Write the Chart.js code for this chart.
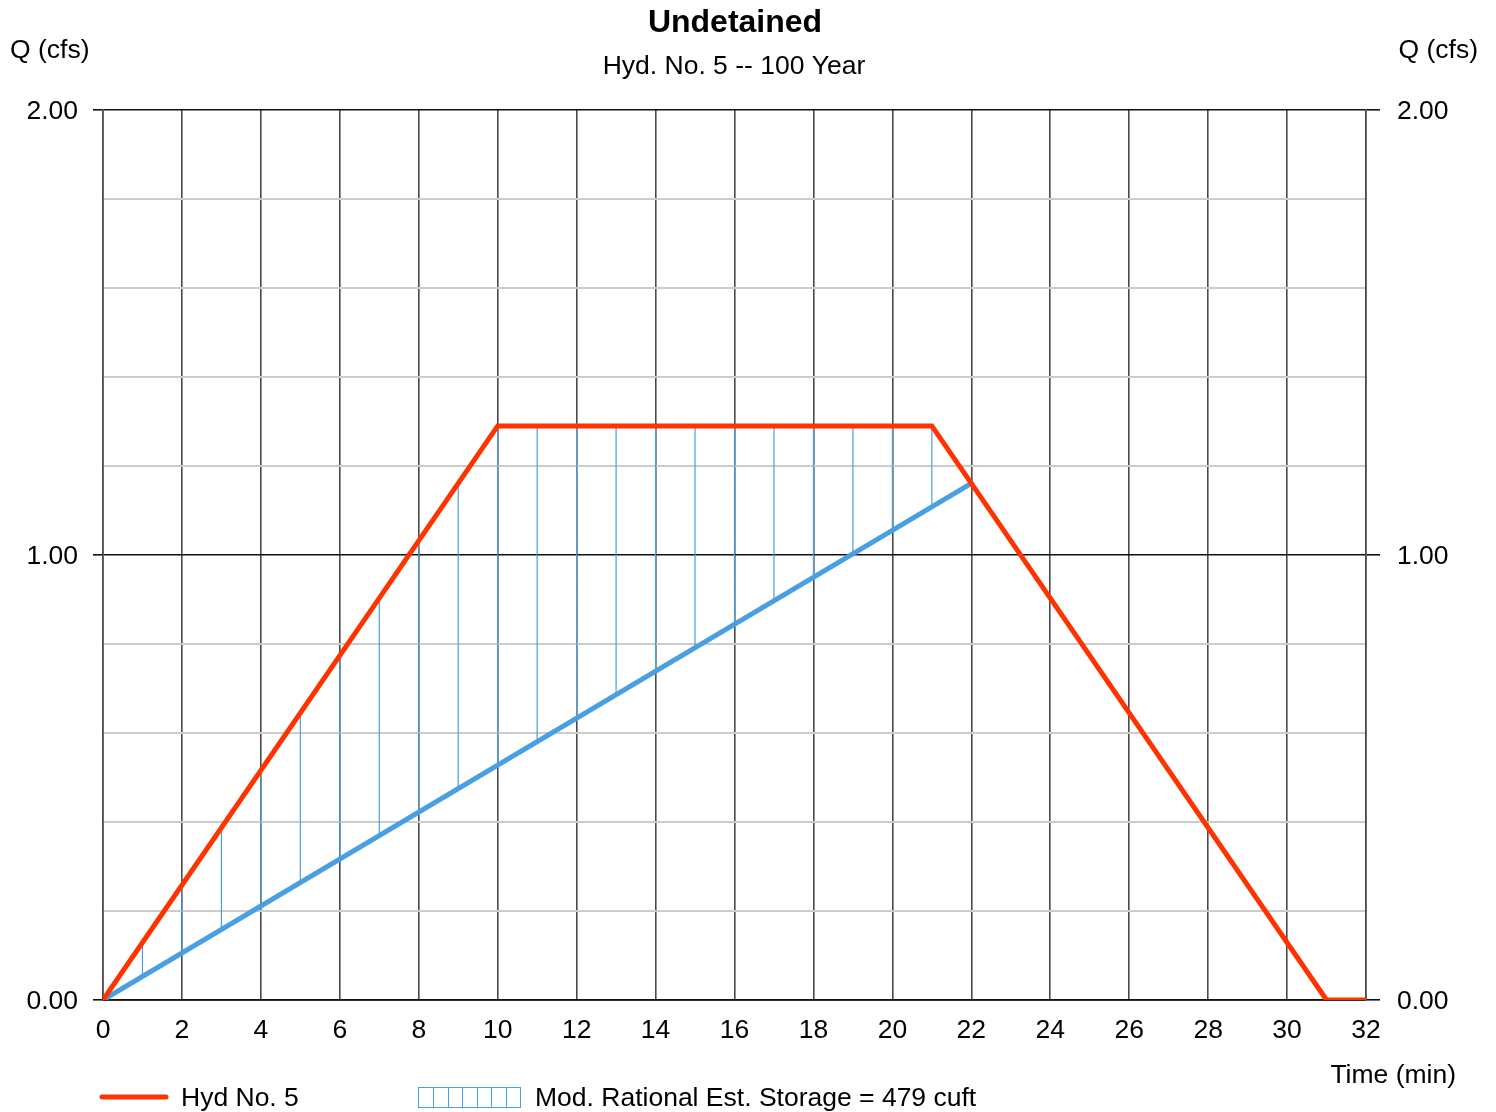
<!DOCTYPE html>
<html>
<head>
<meta charset="utf-8">
<script src="https://cdn.jsdelivr.net/npm/chart.js@4"></script>
<style>
  html, body { margin: 0; padding: 0; background: #fff; }
  #wrap { width: 1496px; height: 1112px; position: relative; }
</style>
</head>
<body>
<div id="wrap"><canvas id="c" width="1496" height="1112"></canvas></div>
<script>
// ---- Data ----
const hydTime   = [0, 10, 21, 31, 32];          // min
const hydFlow   = [0, 1.29, 1.29, 0, 0];        // cfs
const ratTime   = [0, 22];                      // min
const ratFlow   = [0, 1.161];                   // cfs
const hatchTime = [1, 2, 3, 4, 5, 6, 7, 8, 9, 10, 11, 12, 13, 14, 15, 16, 17, 18, 19, 20, 21];
const hatchTop  = [0.129, 0.258, 0.387, 0.516, 0.645, 0.774, 0.903, 1.032, 1.161, 1.29, 1.29,
                   1.29, 1.29, 1.29, 1.29, 1.29, 1.29, 1.29, 1.29, 1.29, 1.29];
const hatchLow  = [0.053, 0.106, 0.158, 0.211, 0.264, 0.317, 0.369, 0.422, 0.475, 0.528, 0.580,
                   0.633, 0.686, 0.739, 0.792, 0.844, 0.897, 0.950, 1.003, 1.056, 1.108];
const yTickLabels = ['0.00', '1.00', '2.00'];
const titleText = 'Undetained';
const subtitleText = 'Hyd. No. 5 -- 100 Year';
const yAxisTitle = 'Q (cfs)';
const xAxisTitle = 'Time (min)';
const legendHyd = 'Hyd No. 5';
const legendStorage = 'Mod. Rational Est. Storage = 479 cuft';

const RED = '#ff3300';
const BLUE = '#4a9fe0';
const FONT = '"Liberation Sans", Arial, sans-serif';
const FS = 26.5;

const hydData = hydTime.map((t, i) => ({ x: t, y: hydFlow[i] }));
const ratData = ratTime.map((t, i) => ({ x: t, y: ratFlow[i] }));
const hatchData = [];
hatchTime.forEach((t, i) => {
  hatchData.push({ x: t, y: hatchLow[i] });
  hatchData.push({ x: t, y: hatchTop[i] });
  hatchData.push({ x: t, y: null });
});

function isMajor(v) { return Math.abs(v - Math.round(v)) < 1e-6; }
function yLabel(v) {
  if (!isMajor(v)) return '';
  return yTickLabels[Math.round(v)] || '';
}

const textPlugin = {
  id: 'textPlugin',
  afterDraw(chart) {
    const ctx = chart.ctx;
    ctx.save();
    ctx.fillStyle = '#000';
    ctx.textBaseline = 'middle';
    // title
    ctx.textAlign = 'center';
    ctx.font = 'bold 32px ' + FONT;
    ctx.fillText(titleText, 735, 23);
    ctx.font = FS + 'px ' + FONT;
    ctx.fillText(subtitleText, 734, 67);
    // y-axis titles
    ctx.textAlign = 'left';
    ctx.fillText(yAxisTitle, 10, 51);
    ctx.textAlign = 'right';
    ctx.fillText(yAxisTitle, 1478, 51);
    // x-axis title
    ctx.fillText(xAxisTitle, 1456, 1076);
    // legend: red line
    ctx.strokeStyle = RED;
    ctx.lineWidth = 5;
    ctx.lineCap = 'round';
    ctx.beginPath();
    ctx.moveTo(102, 1097);
    ctx.lineTo(166, 1097);
    ctx.stroke();
    ctx.textAlign = 'left';
    ctx.fillText(legendHyd, 181, 1099);
    // legend: hatch box
    ctx.strokeStyle = BLUE;
    ctx.lineWidth = 1;
    ctx.lineCap = 'butt';
    const bx = 418.5, by = 1087.5, bw = 102, bh = 20;
    ctx.strokeRect(bx, by, bw, bh);
    for (let k = 1; k < 7; k++) {
      const xx = Math.round(bx + k * bw / 7) + 0.5;
      ctx.beginPath();
      ctx.moveTo(xx, by);
      ctx.lineTo(xx, by + bh);
      ctx.stroke();
    }
    ctx.fillText(legendStorage, 535, 1099);
    ctx.restore();
  }
};

new Chart(document.getElementById('c'), {
  type: 'line',
  data: {
    datasets: [
      { label: legendHyd, data: hydData, borderColor: RED, backgroundColor: RED,
        borderWidth: 5, pointRadius: 0, tension: 0, borderCapStyle: 'round', borderJoinStyle: 'miter' },
      { label: 'Mod. Rational', data: ratData, borderColor: BLUE, backgroundColor: BLUE,
        borderWidth: 5, pointRadius: 0, tension: 0, borderCapStyle: 'round' },
      { label: 'Storage', data: hatchData, borderColor: BLUE, backgroundColor: BLUE,
        borderWidth: 1.2, pointRadius: 0, tension: 0, spanGaps: false }
    ]
  },
  options: {
    responsive: false,
    animation: false,
    layout: { padding: { left: 0, right: 0, top: 110, bottom: 0 } },
    plugins: { legend: { display: false }, tooltip: { enabled: false }, title: { display: false } },
    scales: {
      x: {
        type: 'linear', min: 0, max: 32,
        afterFit(s) { s.height = 112; },
        ticks: { stepSize: 2, padding: 15, color: '#000', font: { family: FONT, size: FS },
                 maxRotation: 0, autoSkip: false },
        grid: { color: '#4a4a4a', lineWidth: 1.6, drawTicks: false },
        border: { display: true, color: '#111', width: 1.8 }
      },
      y: {
        position: 'left', min: 0, max: 2,
        afterFit(s) { s.width = 103; },
        ticks: { stepSize: 0.2, padding: 15, labelOffset: 2, color: '#000', font: { family: FONT, size: FS },
                 autoSkip: false, callback: v => yLabel(v) },
        grid: {
          color: c => isMajor(c.tick.value) ? '#111' : '#cccccc',
          lineWidth: c => isMajor(c.tick.value) ? 1.6 : 2,
          tickColor: c => isMajor(c.tick.value) ? '#111' : 'rgba(0,0,0,0)',
          tickLength: 10
        },
        border: { display: true, color: '#4a4a4a', width: 1.6 }
      },
      y2: {
        position: 'right', min: 0, max: 2,
        afterFit(s) { s.width = 130; },
        ticks: { stepSize: 0.2, padding: 17, labelOffset: 2, color: '#000', font: { family: FONT, size: FS },
                 autoSkip: false, callback: v => yLabel(v) },
        grid: {
          drawOnChartArea: false,
          color: c => isMajor(c.tick.value) ? '#111' : 'rgba(0,0,0,0)',
          lineWidth: 1.6,
          tickColor: c => isMajor(c.tick.value) ? '#111' : 'rgba(0,0,0,0)',
          tickLength: 14
        },
        border: { display: true, color: '#4a4a4a', width: 1.6 }
      }
    }
  },
  plugins: [textPlugin]
});
</script>
</body>
</html>
